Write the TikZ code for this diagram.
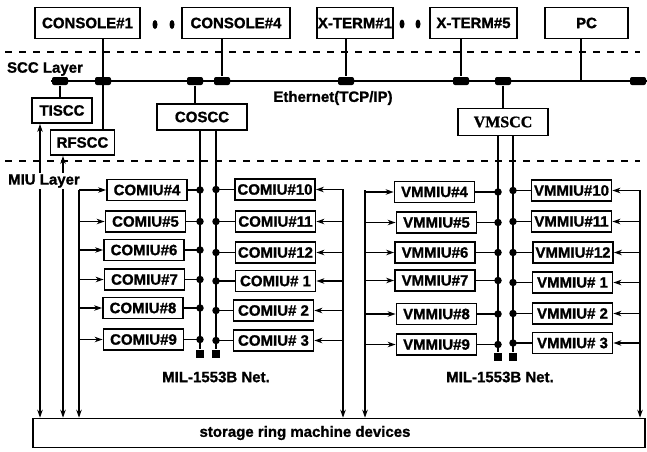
\documentclass[tikz,border=0pt]{standalone}
\usepackage{fontspec}
\setmainfont{Liberation Sans}[BoldFeatures={FakeBold=1.2}]
\newfontfamily\vmsfont{Liberation Serif}[BoldFeatures={FakeBold=1.2}]
\usetikzlibrary{arrows.meta}
\newcommand\lblfont{\fontsize{15}{17}\selectfont\bfseries}
\tikzset{
  box/.style={draw, line width=1.8pt, inner sep=0pt, minimum width=80pt, minimum height=21pt, font=\lblfont},
  ethtap/.style={fill, rounded corners=2pt, minimum width=16pt, minimum height=8pt, inner sep=0pt},
  bdot/.style={circle, fill, inner sep=0pt, minimum size=7.5pt},
  busend/.style={fill, minimum size=8pt, inner sep=0pt},
  layer/.style={dash pattern=on 7pt off 7pt}
}
\begin{document}
\begin{tikzpicture}[x=1pt, y=-1pt, >={Stealth[length=8pt,width=5.5pt]}, line width=1.4pt]
\useasboundingbox (0,0) rectangle (647,451);
% terminals
\node[box, minimum width=105pt, minimum height=31pt] (con1) at (87.5,23) {CONSOLE\#1};
\node[box, minimum width=108pt, minimum height=31pt] (con4) at (236,23) {CONSOLE\#4};
\node[box, minimum width=76pt, minimum height=31pt] (xt1) at (355,23) {X-TERM\#1};
\node[box, minimum width=87pt, minimum height=31pt] (xt5) at (473.5,23) {X-TERM\#5};
\node[box, minimum width=83pt, minimum height=31pt] (pc) at (586.5,23) {PC};
\fill (155,24.5) ellipse (2.5 and 4.5) (172,24.5) ellipse (2.5 and 4.5);
\fill (402,24) ellipse (2.5 and 4.5) (418,24) ellipse (2.5 and 4.5);
\draw[layer] (5,52) -- (640,52);
\draw[layer] (5,161) -- (640,161);
\node[font=\lblfont] (scc) at (45,69) {SCC Layer};
% ethernet
\node[ethtap] (t0) at (60,81) {};
\node[ethtap] (t1) at (103,81) {};
\node[ethtap] (t2) at (195,81) {};
\node[ethtap] (t3) at (222,81) {};
\node[ethtap] (t4) at (346,81) {};
\node[ethtap] (t5) at (461,81) {};
\node[ethtap] (t6) at (503,81) {};
\coordinate (pcj) at (581,81);
\node[ethtap] (t7) at (638,81) {};
\draw[line width=1.6pt] (t0.west) -- (t7.east);
\node[font=\lblfont] (eth) at (333,98) {Ethernet(TCP/IP)};
% scc
\node[box, minimum width=60pt, minimum height=25pt] (tiscc) at (62,110.5) {TISCC};
\node[box, minimum width=64pt, minimum height=25pt] (rfscc) at (82.5,142.5) {RFSCC};
\node[box, minimum width=90pt, minimum height=26pt] (coscc) at (202,117) {COSCC};
\node[box, minimum width=90pt, minimum height=27pt, font=\fontsize{16}{18}\selectfont\bfseries\vmsfont] (vmscc) at (503,122) {VMSCC};
\draw (con1.south -| t1) -- (rfscc.north -| t1);
\draw (con4.south -| t3) -- (t3);
\draw (xt1.south -| t4) -- (t4);
\draw (xt5.south -| t5) -- (t5);
\draw (pc.south -| pcj) -- (pcj);
\draw (t0) -- (t0 |- tiscc.north);
\draw (t2) -- (t2 |- coscc.north);
\draw (t6) -- (vmscc.north);
% storage
\node[draw, line width=1.6pt, minimum width=612pt, minimum height=29pt, inner sep=0pt] (store) at (339,433) {};
\node[font=\lblfont] (storetxt) at (305,433) {storage ring machine devices};
% mil-1553b buses
\node[busend] (cb1) at (200,354) {};
\node[busend] (cb2) at (216,354) {};
\node[busend] (vb1) at (498,357) {};
\node[busend] (vb2) at (513,357) {};
\draw (cb1 |- coscc.south) -- (cb1);
\draw (cb2 |- coscc.south) -- (cb2);
\draw (vb1 |- vmscc.south) -- (vb1);
\draw (vb2 |- vmscc.south) -- (vb2);
\node[font=\lblfont] (mil1) at (216,377) {MIL-1553B Net.};
\node[font=\lblfont] (mil2) at (500,377) {MIL-1553B Net.};
% device lines
\coordinate (sa) at (40,0);
\coordinate (sb) at (63,0);
\coordinate (fa) at (79,190);
\coordinate (fb) at (343,189);
\coordinate (fc) at (365,190);
\coordinate (fd) at (640,190);
\draw[<->] (tiscc.south -| sa) -- (sa |- store.north);
\draw[<->] (rfscc.south -| sb) -- (sb |- store.north);
\draw[->] (fa) -- (fa |- store.north);
\draw[->] (fb) -- (fb |- store.north);
\draw[->] (fc) -- (fc |- store.north);
\draw[->] (fd) -- (fd |- store.north);
\node[font=\lblfont, fill=white, inner sep=1pt] (miu) at (44,181) {MIU Layer};
% miu boxes
\foreach \n/\x/\y/\t in {cl4/147/190/COMIU\#4, cl5/145.5/221.5/COMIU\#5, cl6/144/250/COMIU\#6,
    cl7/144.5/279.5/COMIU\#7, cl8/143/308/COMIU\#8, cl9/143.5/339.5/COMIU\#9}{
  \node[box] (\n) at (\x,\y) {\t};
  \draw (\n.east) -- (\n -| cb1) node[bdot]{};
  \draw[->] (\n -| fa) -- (\n.west);
}
\foreach \n/\x/\y/\t in {cr10/275/189.5/COMIU\#10, cr11/275.5/221.5/COMIU\#11, cr12/275.5/252.5/COMIU\#12,
    cr1/275.5/281/COMIU\# 1, cr2/273.5/310.5/COMIU\# 2, cr3/273.5/340.5/COMIU\# 3}{
  \node[box] (\n) at (\x,\y) {\t};
  \draw (\n.west) -- (\n -| cb2) node[bdot]{};
  \draw[->] (\n -| fb) -- (\n.east);
}
\foreach \n/\x/\y/\t in {vl4/434.5/192/VMMIU\#4, vl5/436.5/222.5/VMMIU\#5, vl6/435/252.5/VMMIU\#6,
    vl7/435/280.5/VMMIU\#7, vl8/436.5/314/VMMIU\#8, vl9/436.5/344.5/VMMIU\#9}{
  \node[box] (\n) at (\x,\y) {\t};
  \draw (\n.east) -- (\n -| vb1) node[bdot]{};
  \draw[->] (\n -| fc) -- (\n.west);
}
\foreach \n/\x/\y/\t in {vr10/571.5/190.5/VMMIU\#10, vr11/571.5/221.5/VMMIU\#11, vr12/573/252.5/VMMIU\#12,
    vr1/572.5/282.5/VMMIU\# 1, vr2/572.5/313.5/VMMIU\# 2, vr3/572.5/343/VMMIU\# 3}{
  \node[box] (\n) at (\x,\y) {\t};
  \draw (\n.west) -- (\n -| vb2) node[bdot]{};
  \draw[->] (\n -| fd) -- (\n.east);
}
\end{tikzpicture}
\end{document}
